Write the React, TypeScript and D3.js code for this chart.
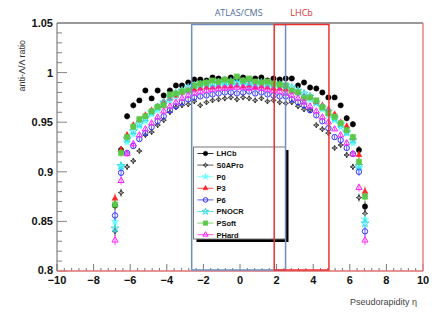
import * as d3 from "d3";
import React from "react";

const W = 436;
const H = 328;

// eta bin centres
const etaBins = [
  -6.83, -6.5, -6.17, -5.83, -5.5, -5.17, -4.83, -4.5, -4.17, -3.83, -3.5,
  -3.17, -2.83, -2.5, -2.17, -1.83, -1.5, -1.17, -0.83, -0.5, -0.17, 0.17,
  0.5, 0.83, 1.17, 1.5, 1.83, 2.17, 2.5, 2.83, 3.17, 3.5, 3.83, 4.17, 4.5,
  4.83, 5.17, 5.5, 5.83, 6.17, 6.5, 6.83,
];

const binErr = [
  0.005, 0.004, 0.003, 0.003, 0.002, 0.002, 0.002, 0.002, 0.002, 0.002, 0.002,
  0.002, 0.002, 0.002, 0.002, 0.002, 0.002, 0.002, 0.002, 0.002, 0.002, 0.002,
  0.002, 0.002, 0.002, 0.002, 0.002, 0.002, 0.002, 0.002, 0.002, 0.002, 0.002,
  0.002, 0.002, 0.002, 0.002, 0.002, 0.003, 0.003, 0.004, 0.005,
];

const lhcb = [
  0.866, 0.922, 0.956, 0.967, 0.972, 0.982, 0.974, 0.982, 0.977, 0.982, 0.987,
  0.987, 0.99, 0.993, 0.993, 0.992, 0.995, 0.994, 0.993, 0.995, 0.994, 0.995,
  0.993, 0.994, 0.995, 0.992, 0.994, 0.993, 0.994, 0.994, 0.987, 0.99, 0.985,
  0.984, 0.98, 0.975, 0.975, 0.967, 0.954, 0.948, 0.922, 0.865,
];
const s0apro = [
  0.84, 0.879, 0.905, 0.911, 0.921, 0.937, 0.94, 0.947, 0.952, 0.96, 0.965,
  0.967, 0.968, 0.971, 0.967, 0.97, 0.972, 0.973, 0.974, 0.975, 0.973, 0.975,
  0.974, 0.972, 0.974, 0.971, 0.972, 0.97, 0.969, 0.97, 0.966, 0.963, 0.962,
  0.947, 0.943, 0.939, 0.924, 0.927, 0.917, 0.905, 0.874, 0.858,
];
const p0 = [
  0.85, 0.905, 0.93, 0.938, 0.946, 0.951, 0.958, 0.962, 0.968, 0.972, 0.976,
  0.98, 0.981, 0.984, 0.986, 0.987, 0.986, 0.988, 0.989, 0.987, 0.988, 0.989,
  0.988, 0.987, 0.988, 0.986, 0.987, 0.985, 0.984, 0.982, 0.979, 0.977, 0.973,
  0.969, 0.963, 0.957, 0.952, 0.945, 0.939, 0.929, 0.904, 0.852,
];
const p3 = [
  0.873, 0.922, 0.937, 0.947, 0.952, 0.957, 0.962, 0.966, 0.971, 0.974, 0.977,
  0.98, 0.982, 0.983, 0.984, 0.985, 0.985, 0.986, 0.986, 0.986, 0.987, 0.986,
  0.987, 0.985, 0.986, 0.985, 0.984, 0.984, 0.983, 0.981, 0.98, 0.976, 0.975,
  0.97, 0.967, 0.963, 0.958, 0.95, 0.946, 0.934, 0.917, 0.88,
];
const p6 = [
  0.856, 0.899, 0.919, 0.926, 0.933, 0.939, 0.945, 0.951, 0.956, 0.962, 0.966,
  0.97, 0.973, 0.975, 0.976, 0.977, 0.978, 0.979, 0.98, 0.98, 0.979, 0.98,
  0.981, 0.979, 0.98, 0.978, 0.977, 0.976, 0.976, 0.973, 0.97, 0.967, 0.962,
  0.957, 0.951, 0.944, 0.935, 0.932, 0.924, 0.918, 0.9, 0.84,
];
const pnocr = [
  0.843, 0.906, 0.933, 0.941, 0.948, 0.954, 0.96, 0.965, 0.97, 0.975, 0.979,
  0.982, 0.985, 0.987, 0.988, 0.989, 0.989, 0.99, 0.99, 0.991, 0.99, 0.991,
  0.99, 0.989, 0.99, 0.989, 0.988, 0.988, 0.987, 0.985, 0.982, 0.979, 0.976,
  0.97, 0.965, 0.961, 0.954, 0.948, 0.94, 0.932, 0.906, 0.848,
];
const psoft = [
  0.867, 0.919, 0.935, 0.9455, 0.953, 0.956, 0.961, 0.9656, 0.967, 0.978,
  0.979, 0.981, 0.982, 0.987, 0.989, 0.99, 0.992, 0.991, 0.993, 0.991, 0.996,
  0.992, 0.994, 0.991, 0.99, 0.991, 0.989, 0.988, 0.987, 0.982, 0.98, 0.974,
  0.975, 0.972, 0.965, 0.959, 0.9555, 0.949, 0.942, 0.935, 0.91, 0.875,
];
const phard = [
  0.831, 0.891, 0.918, 0.928, 0.937, 0.943, 0.949, 0.955, 0.961, 0.966, 0.97,
  0.974, 0.977, 0.979, 0.981, 0.982, 0.983, 0.984, 0.984, 0.985, 0.985, 0.985,
  0.984, 0.985, 0.984, 0.983, 0.982, 0.981, 0.979, 0.977, 0.974, 0.97, 0.966,
  0.961, 0.955, 0.95, 0.943, 0.937, 0.929, 0.918, 0.884, 0.831,
];

const series = [
  { name: "LHCb", values: lhcb, color: "#000000", shape: "circle", filled: true },
  { name: "S0APro", values: s0apro, color: "#333333", shape: "cross4", filled: false },
  { name: "P0", values: p0, color: "#66ffff", shape: "star", filled: true },
  { name: "P3", values: p3, color: "#ff2222", shape: "triangle", filled: true },
  { name: "P6", values: p6, color: "#3333ff", shape: "circle", filled: false },
  { name: "PNOCR", values: pnocr, color: "#33dde8", shape: "star", filled: false },
  { name: "PSoft", values: psoft, color: "#5cc84a", shape: "square", filled: true },
  { name: "PHard", values: phard, color: "#ff22ff", shape: "triangle", filled: false },
];

const xTicks = [-10, -8, -6, -4, -2, 0, 2, 4, 6, 8, 10];
const yTicks = [0.8, 0.85, 0.9, 0.95, 1, 1.05];

// detector acceptance boxes
const regions = [
  { label: "ATLAS/CMS", from: -2.64, to: 2.49, color: "#6f8fc0", text: "#4f6e9e" },
  { label: "LHCb", from: 1.87, to: 4.86, color: "#ee3030", text: "#e03030" },
];

const fmtX = (v) => (v < 0 ? "\u2212" + Math.abs(v) : String(v));

function markerPath(shape, r) {
  if (shape === "circle") return d3.symbol(d3.symbolCircle, Math.PI * r * r)();
  if (shape === "square") return d3.symbol(d3.symbolSquare, 4 * r * r)();
  if (shape === "triangle") return d3.symbol(d3.symbolTriangle, 2.2 * r * r)();
  if (shape === "star") return d3.symbol(d3.symbolStar, 2.6 * r * r)();
  // concave four pointed star
  const k = r * 0.3;
  return `M0,${-r}L${k},${-k}L${r},0L${k},${k}L0,${r}L${-k},${k}L${-r},0L${-k},${-k}Z`;
}

function Marker({ s, cx, cy, r }) {
  return (
    <path
      d={markerPath(s.shape, r)}
      transform={`translate(${cx},${cy})`}
      fill={s.filled ? s.color : "none"}
      stroke={s.color}
      strokeWidth={s.filled ? 0.4 : 1}
    />
  );
}

export default function App() {
  const x = d3.scaleLinear().domain([-10, 10]).range([57, 423]);
  const y = d3.scaleLinear().domain([0.8, 1.05]).range([271, 23]);
  const xMinor = d3.range(-10, 10.001, 0.4);
  const yMinor = d3.range(0.8, 1.0501, 0.01);
  const tickFont = { fontFamily: "Liberation Sans, Arial, sans-serif", fontWeight: "bold", fontSize: 11 };

  const lg = { x: 193.5, y: 147, w: 92, h: 92 };

  return (
    <svg width={W} height={H} style={{ position: "absolute", left: 0, top: 0, background: "#fff" }}>
      {/* region labels */}
      {regions.map((r) => (
        <text
          key={r.label}
          x={(x(r.from) + x(r.to)) / 2}
          y={16}
          textAnchor="middle"
          fill={r.text}
          style={{ fontFamily: "Open Sans, Liberation Sans, sans-serif", fontSize: 9 }}
        >
          {r.label}
        </text>
      ))}

      {/* axis ticks */}
      {yMinor.map((v, i) => (
        <line key={"ym" + i} x1={57} x2={i % 5 === 0 ? 67 : 62} y1={y(v)} y2={y(v)} stroke="#666" strokeWidth={0.8} />
      ))}
      {xMinor.map((v, i) => (
        <line key={"xm" + i} x1={x(v)} x2={x(v)} y1={271} y2={i % 5 === 0 ? 264 : 268} stroke="#555" strokeWidth={0.8} />
      ))}

      {/* frame */}
      <line x1={57} x2={423} y1={23} y2={23} stroke="#999" strokeWidth={2} />
      <line x1={57} x2={57} y1={23} y2={271} stroke="#666" strokeWidth={1} />
      <line x1={423} x2={423} y1={23} y2={271} stroke="#e88080" strokeWidth={1.5} />
      <line x1={57} x2={423} y1={271} y2={271} stroke="#e07070" strokeWidth={1.5} />

      {yTicks.map((v) => (
        <text key={"yl" + v} x={53} y={y(v) + (v === 0.8 ? 2.5 : 4)} textAnchor="end" fill="#111" style={tickFont}>
          {String(v)}
        </text>
      ))}
      {xTicks.map((v) => (
        <text key={"xl" + v} x={x(v)} y={284} textAnchor="middle" fill="#111" style={tickFont}>
          {fmtX(v)}
        </text>
      ))}

      <text
        transform="translate(25,40) rotate(-90)"
        textAnchor="end"
        fill="#333"
        style={{ fontFamily: "Liberation Sans, Arial, sans-serif", fontSize: 9 }}
      >
        anti-Λ/Λ ratio
      </text>
      <text
        x={417}
        y={305}
        textAnchor="end"
        fill="#444"
        style={{ fontFamily: "Liberation Sans, Arial, sans-serif", fontSize: 9 }}
      >
        Pseudorapidity η
      </text>

      {/* data */}
      {series.map((s) => (
        <g key={s.name}>
          {s.values.map((v, i) => (
            <line
              key={"e" + i}
              x1={x(etaBins[i])}
              x2={x(etaBins[i])}
              y1={y(v - binErr[i])}
              y2={y(v + binErr[i])}
              stroke={s.color}
              strokeWidth={0.8}
            />
          ))}
          {s.values.map((v, i) => (
            <Marker key={"m" + i} s={s} cx={x(etaBins[i])} cy={y(v)} r={2.7} />
          ))}
        </g>
      ))}

      {/* legend */}
      <rect x={lg.x + 3} y={lg.y + 3} width={lg.w} height={lg.h} fill="#000" />
      <rect x={lg.x} y={lg.y} width={lg.w} height={lg.h} fill="#fff" stroke="#777" strokeWidth={1} />
      {series.map((s, i) => {
        const ly = lg.y + 6.5 + i * 11.6;
        return (
          <g key={"lg" + s.name}>
            <line x1={lg.x + 4} x2={lg.x + 20} y1={ly} y2={ly} stroke={s.color} strokeWidth={0.8} />
            <Marker s={s} cx={lg.x + 12} cy={ly} r={2.3} />
            <text
              x={lg.x + 23}
              y={ly + 2.8}
              fill="#111"
              style={{ fontFamily: "Liberation Sans, Arial, sans-serif", fontWeight: "bold", fontSize: 7.5 }}
            >
              {s.name}
            </text>
          </g>
        );
      })}

      {/* acceptance boxes */}
      {regions.map((r) => (
        <rect
          key={"box" + r.label}
          x={x(r.from)}
          y={24.5}
          width={x(r.to) - x(r.from)}
          height={270 - 24.5}
          fill="none"
          stroke={r.color}
          strokeWidth={1.5}
        />
      ))}
    </svg>
  );
}
